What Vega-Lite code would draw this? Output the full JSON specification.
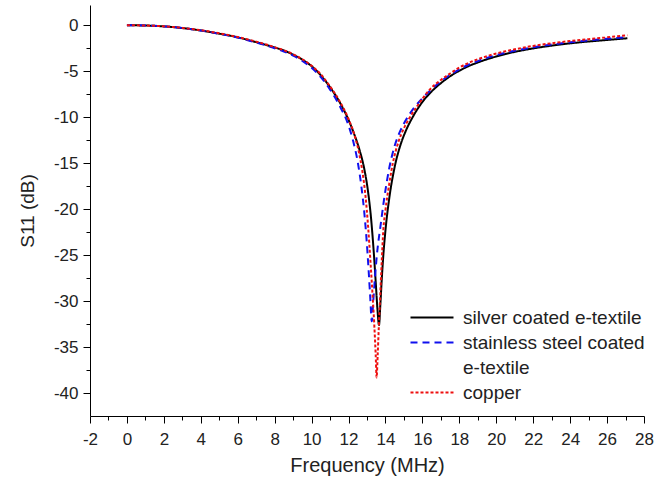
{
  "$schema": "https://vega.github.io/schema/vega-lite/v6.json",
  "width": 554,
  "height": 411,
  "autosize": "none",
  "padding": {"left": 90, "top": 5, "right": 26, "bottom": 72},
  "background": "white",
  "config": {
    "view": {"stroke": null},
    "font": "Liberation Sans",
    "axis": {
      "grid": false,
      "domainColor": "black",
      "domainWidth": 1,
      "tickColor": "black",
      "tickWidth": 1,
      "labelColor": "#222222",
      "labelFont": "Liberation Sans",
      "labelFontSize": 17,
      "titleFont": "Liberation Sans",
      "titleFontWeight": "normal",
      "titleColor": "#222222"
    }
  },
  "data": {
    "values": [
      {"freq": 0, "s11": 0, "sample": "silver coated e-textile"},
      {"freq": 0.5, "s11": -0.01, "sample": "silver coated e-textile"},
      {"freq": 1, "s11": -0.03, "sample": "silver coated e-textile"},
      {"freq": 1.5, "s11": -0.07, "sample": "silver coated e-textile"},
      {"freq": 2, "s11": -0.13, "sample": "silver coated e-textile"},
      {"freq": 2.5, "s11": -0.2, "sample": "silver coated e-textile"},
      {"freq": 3, "s11": -0.31, "sample": "silver coated e-textile"},
      {"freq": 3.5, "s11": -0.43, "sample": "silver coated e-textile"},
      {"freq": 4, "s11": -0.57, "sample": "silver coated e-textile"},
      {"freq": 4.5, "s11": -0.74, "sample": "silver coated e-textile"},
      {"freq": 5, "s11": -0.92, "sample": "silver coated e-textile"},
      {"freq": 5.5, "s11": -1.1, "sample": "silver coated e-textile"},
      {"freq": 6, "s11": -1.32, "sample": "silver coated e-textile"},
      {"freq": 6.5, "s11": -1.57, "sample": "silver coated e-textile"},
      {"freq": 7, "s11": -1.84, "sample": "silver coated e-textile"},
      {"freq": 7.5, "s11": -2.12, "sample": "silver coated e-textile"},
      {"freq": 8, "s11": -2.42, "sample": "silver coated e-textile"},
      {"freq": 8.5, "s11": -2.75, "sample": "silver coated e-textile"},
      {"freq": 9, "s11": -3.2, "sample": "silver coated e-textile"},
      {"freq": 9.5, "s11": -3.75, "sample": "silver coated e-textile"},
      {"freq": 10, "s11": -4.45, "sample": "silver coated e-textile"},
      {"freq": 10.5, "s11": -5.45, "sample": "silver coated e-textile"},
      {"freq": 11, "s11": -6.75, "sample": "silver coated e-textile"},
      {"freq": 11.5, "s11": -8.3, "sample": "silver coated e-textile"},
      {"freq": 12, "s11": -10.3, "sample": "silver coated e-textile"},
      {"freq": 12.3, "s11": -11.8, "sample": "silver coated e-textile"},
      {"freq": 12.6, "s11": -13.6, "sample": "silver coated e-textile"},
      {"freq": 12.85, "s11": -15.6, "sample": "silver coated e-textile"},
      {"freq": 13.05, "s11": -18.0, "sample": "silver coated e-textile"},
      {"freq": 13.22, "s11": -21.0, "sample": "silver coated e-textile"},
      {"freq": 13.37, "s11": -24.8, "sample": "silver coated e-textile"},
      {"freq": 13.48, "s11": -28.2, "sample": "silver coated e-textile"},
      {"freq": 13.57, "s11": -31.0, "sample": "silver coated e-textile"},
      {"freq": 13.65, "s11": -32.6, "sample": "silver coated e-textile"},
      {"freq": 13.72, "s11": -30.5, "sample": "silver coated e-textile"},
      {"freq": 13.8, "s11": -27.6, "sample": "silver coated e-textile"},
      {"freq": 13.9, "s11": -24.6, "sample": "silver coated e-textile"},
      {"freq": 14, "s11": -22.3, "sample": "silver coated e-textile"},
      {"freq": 14.2, "s11": -18.9, "sample": "silver coated e-textile"},
      {"freq": 14.5, "s11": -15.4, "sample": "silver coated e-textile"},
      {"freq": 14.8, "s11": -13.1, "sample": "silver coated e-textile"},
      {"freq": 15.1, "s11": -11.5, "sample": "silver coated e-textile"},
      {"freq": 15.5, "s11": -9.9, "sample": "silver coated e-textile"},
      {"freq": 16, "s11": -8.35, "sample": "silver coated e-textile"},
      {"freq": 16.5, "s11": -7.2, "sample": "silver coated e-textile"},
      {"freq": 17, "s11": -6.3, "sample": "silver coated e-textile"},
      {"freq": 17.5, "s11": -5.55, "sample": "silver coated e-textile"},
      {"freq": 18, "s11": -4.95, "sample": "silver coated e-textile"},
      {"freq": 18.5, "s11": -4.45, "sample": "silver coated e-textile"},
      {"freq": 19, "s11": -4.05, "sample": "silver coated e-textile"},
      {"freq": 19.5, "s11": -3.7, "sample": "silver coated e-textile"},
      {"freq": 20, "s11": -3.4, "sample": "silver coated e-textile"},
      {"freq": 20.5, "s11": -3.13, "sample": "silver coated e-textile"},
      {"freq": 21, "s11": -2.9, "sample": "silver coated e-textile"},
      {"freq": 22, "s11": -2.52, "sample": "silver coated e-textile"},
      {"freq": 23, "s11": -2.22, "sample": "silver coated e-textile"},
      {"freq": 24, "s11": -1.97, "sample": "silver coated e-textile"},
      {"freq": 25, "s11": -1.77, "sample": "silver coated e-textile"},
      {"freq": 26, "s11": -1.6, "sample": "silver coated e-textile"},
      {"freq": 27.1, "s11": -1.42, "sample": "silver coated e-textile"},

      {"freq": 0, "s11": 0, "sample": "stainless steel coated e-textile"},
      {"freq": 0.5, "s11": -0.01, "sample": "stainless steel coated e-textile"},
      {"freq": 1, "s11": -0.03, "sample": "stainless steel coated e-textile"},
      {"freq": 1.5, "s11": -0.07, "sample": "stainless steel coated e-textile"},
      {"freq": 2, "s11": -0.13, "sample": "stainless steel coated e-textile"},
      {"freq": 2.5, "s11": -0.2, "sample": "stainless steel coated e-textile"},
      {"freq": 3, "s11": -0.31, "sample": "stainless steel coated e-textile"},
      {"freq": 3.5, "s11": -0.43, "sample": "stainless steel coated e-textile"},
      {"freq": 4, "s11": -0.57, "sample": "stainless steel coated e-textile"},
      {"freq": 4.5, "s11": -0.74, "sample": "stainless steel coated e-textile"},
      {"freq": 5, "s11": -0.93, "sample": "stainless steel coated e-textile"},
      {"freq": 5.5, "s11": -1.13, "sample": "stainless steel coated e-textile"},
      {"freq": 6, "s11": -1.35, "sample": "stainless steel coated e-textile"},
      {"freq": 6.5, "s11": -1.6, "sample": "stainless steel coated e-textile"},
      {"freq": 7, "s11": -1.88, "sample": "stainless steel coated e-textile"},
      {"freq": 7.5, "s11": -2.18, "sample": "stainless steel coated e-textile"},
      {"freq": 8, "s11": -2.5, "sample": "stainless steel coated e-textile"},
      {"freq": 8.5, "s11": -2.86, "sample": "stainless steel coated e-textile"},
      {"freq": 9, "s11": -3.3, "sample": "stainless steel coated e-textile"},
      {"freq": 9.5, "s11": -3.88, "sample": "stainless steel coated e-textile"},
      {"freq": 10, "s11": -4.62, "sample": "stainless steel coated e-textile"},
      {"freq": 10.5, "s11": -5.65, "sample": "stainless steel coated e-textile"},
      {"freq": 11, "s11": -7.0, "sample": "stainless steel coated e-textile"},
      {"freq": 11.5, "s11": -8.7, "sample": "stainless steel coated e-textile"},
      {"freq": 12, "s11": -10.9, "sample": "stainless steel coated e-textile"},
      {"freq": 12.25, "s11": -12.6, "sample": "stainless steel coated e-textile"},
      {"freq": 12.5, "s11": -14.9, "sample": "stainless steel coated e-textile"},
      {"freq": 12.7, "s11": -17.6, "sample": "stainless steel coated e-textile"},
      {"freq": 12.85, "s11": -20.3, "sample": "stainless steel coated e-textile"},
      {"freq": 12.98, "s11": -23.4, "sample": "stainless steel coated e-textile"},
      {"freq": 13.08, "s11": -26.4, "sample": "stainless steel coated e-textile"},
      {"freq": 13.17, "s11": -29.4, "sample": "stainless steel coated e-textile"},
      {"freq": 13.26, "s11": -32.2, "sample": "stainless steel coated e-textile"},
      {"freq": 13.34, "s11": -30.0, "sample": "stainless steel coated e-textile"},
      {"freq": 13.44, "s11": -27.2, "sample": "stainless steel coated e-textile"},
      {"freq": 13.56, "s11": -24.5, "sample": "stainless steel coated e-textile"},
      {"freq": 13.72, "s11": -22.0, "sample": "stainless steel coated e-textile"},
      {"freq": 13.92, "s11": -19.0, "sample": "stainless steel coated e-textile"},
      {"freq": 14.18, "s11": -15.8, "sample": "stainless steel coated e-textile"},
      {"freq": 14.5, "s11": -13.1, "sample": "stainless steel coated e-textile"},
      {"freq": 14.8, "s11": -11.5, "sample": "stainless steel coated e-textile"},
      {"freq": 15.2, "s11": -10.0, "sample": "stainless steel coated e-textile"},
      {"freq": 15.6, "s11": -8.85, "sample": "stainless steel coated e-textile"},
      {"freq": 16, "s11": -7.95, "sample": "stainless steel coated e-textile"},
      {"freq": 16.4, "s11": -7.15, "sample": "stainless steel coated e-textile"},
      {"freq": 17, "s11": -6.1, "sample": "stainless steel coated e-textile"},
      {"freq": 17.5, "s11": -5.4, "sample": "stainless steel coated e-textile"},
      {"freq": 18, "s11": -4.8, "sample": "stainless steel coated e-textile"},
      {"freq": 18.5, "s11": -4.3, "sample": "stainless steel coated e-textile"},
      {"freq": 19, "s11": -3.9, "sample": "stainless steel coated e-textile"},
      {"freq": 19.5, "s11": -3.55, "sample": "stainless steel coated e-textile"},
      {"freq": 20, "s11": -3.25, "sample": "stainless steel coated e-textile"},
      {"freq": 20.5, "s11": -3.0, "sample": "stainless steel coated e-textile"},
      {"freq": 21, "s11": -2.77, "sample": "stainless steel coated e-textile"},
      {"freq": 22, "s11": -2.4, "sample": "stainless steel coated e-textile"},
      {"freq": 23, "s11": -2.1, "sample": "stainless steel coated e-textile"},
      {"freq": 24, "s11": -1.86, "sample": "stainless steel coated e-textile"},
      {"freq": 25, "s11": -1.65, "sample": "stainless steel coated e-textile"},
      {"freq": 26, "s11": -1.47, "sample": "stainless steel coated e-textile"},
      {"freq": 27.1, "s11": -1.3, "sample": "stainless steel coated e-textile"},

      {"freq": 0, "s11": 0, "sample": "copper"},
      {"freq": 0.5, "s11": -0.01, "sample": "copper"},
      {"freq": 1, "s11": -0.03, "sample": "copper"},
      {"freq": 1.5, "s11": -0.07, "sample": "copper"},
      {"freq": 2, "s11": -0.12, "sample": "copper"},
      {"freq": 2.5, "s11": -0.19, "sample": "copper"},
      {"freq": 3, "s11": -0.29, "sample": "copper"},
      {"freq": 3.5, "s11": -0.41, "sample": "copper"},
      {"freq": 4, "s11": -0.54, "sample": "copper"},
      {"freq": 4.5, "s11": -0.7, "sample": "copper"},
      {"freq": 5, "s11": -0.88, "sample": "copper"},
      {"freq": 5.5, "s11": -1.07, "sample": "copper"},
      {"freq": 6, "s11": -1.28, "sample": "copper"},
      {"freq": 6.5, "s11": -1.52, "sample": "copper"},
      {"freq": 7, "s11": -1.78, "sample": "copper"},
      {"freq": 7.5, "s11": -2.07, "sample": "copper"},
      {"freq": 8, "s11": -2.39, "sample": "copper"},
      {"freq": 8.5, "s11": -2.72, "sample": "copper"},
      {"freq": 9, "s11": -3.15, "sample": "copper"},
      {"freq": 9.5, "s11": -3.7, "sample": "copper"},
      {"freq": 10, "s11": -4.4, "sample": "copper"},
      {"freq": 10.5, "s11": -5.35, "sample": "copper"},
      {"freq": 11, "s11": -6.65, "sample": "copper"},
      {"freq": 11.5, "s11": -8.2, "sample": "copper"},
      {"freq": 12, "s11": -10.2, "sample": "copper"},
      {"freq": 12.3, "s11": -11.8, "sample": "copper"},
      {"freq": 12.55, "s11": -13.7, "sample": "copper"},
      {"freq": 12.75, "s11": -15.9, "sample": "copper"},
      {"freq": 12.92, "s11": -18.6, "sample": "copper"},
      {"freq": 13.06, "s11": -21.9, "sample": "copper"},
      {"freq": 13.19, "s11": -25.8, "sample": "copper"},
      {"freq": 13.3, "s11": -29.3, "sample": "copper"},
      {"freq": 13.4, "s11": -32.8, "sample": "copper"},
      {"freq": 13.47, "s11": -35.8, "sample": "copper"},
      {"freq": 13.52, "s11": -38.3, "sample": "copper"},
      {"freq": 13.58, "s11": -35.8, "sample": "copper"},
      {"freq": 13.64, "s11": -32.8, "sample": "copper"},
      {"freq": 13.72, "s11": -29.2, "sample": "copper"},
      {"freq": 13.8, "s11": -25.6, "sample": "copper"},
      {"freq": 13.88, "s11": -22.4, "sample": "copper"},
      {"freq": 14, "s11": -20.1, "sample": "copper"},
      {"freq": 14.2, "s11": -17.3, "sample": "copper"},
      {"freq": 14.4, "s11": -15.0, "sample": "copper"},
      {"freq": 14.7, "s11": -12.7, "sample": "copper"},
      {"freq": 15, "s11": -11.2, "sample": "copper"},
      {"freq": 15.3, "s11": -10.1, "sample": "copper"},
      {"freq": 15.7, "s11": -8.85, "sample": "copper"},
      {"freq": 16, "s11": -8.0, "sample": "copper"},
      {"freq": 16.4, "s11": -7.0, "sample": "copper"},
      {"freq": 17, "s11": -5.95, "sample": "copper"},
      {"freq": 17.5, "s11": -5.25, "sample": "copper"},
      {"freq": 18, "s11": -4.6, "sample": "copper"},
      {"freq": 18.5, "s11": -4.1, "sample": "copper"},
      {"freq": 19, "s11": -3.7, "sample": "copper"},
      {"freq": 19.5, "s11": -3.36, "sample": "copper"},
      {"freq": 20, "s11": -3.07, "sample": "copper"},
      {"freq": 20.5, "s11": -2.83, "sample": "copper"},
      {"freq": 21, "s11": -2.62, "sample": "copper"},
      {"freq": 22, "s11": -2.25, "sample": "copper"},
      {"freq": 23, "s11": -1.96, "sample": "copper"},
      {"freq": 24, "s11": -1.72, "sample": "copper"},
      {"freq": 25, "s11": -1.52, "sample": "copper"},
      {"freq": 26, "s11": -1.32, "sample": "copper"},
      {"freq": 27.1, "s11": -1.1, "sample": "copper"}
    ]
  },
  "mark": {"type": "line", "strokeWidth": 2, "interpolate": "monotone"},
  "encoding": {
    "x": {
      "field": "freq",
      "type": "quantitative",
      "scale": {"domain": [-2, 28], "nice": false, "zero": false},
      "axis": {
        "title": "Frequency (MHz)",
        "titleFontSize": 20,
        "titlePadding": 8,
        "values": [-2, -1, 0, 1, 2, 3, 4, 5, 6, 7, 8, 9, 10, 11, 12, 13, 14, 15, 16, 17, 18, 19, 20, 21, 22, 23, 24, 25, 26, 27, 28],
        "labelExpr": "datum.value % 2 == 0 ? replace(datum.label, '−', '-') : ''",
        "tickSize": {"condition": {"test": "datum.value % 2 != 0", "value": 4}, "value": 7},
        "labelPadding": 8,
        "labelFlush": false,
        "labelOverlap": false
      }
    },
    "y": {
      "field": "s11",
      "type": "quantitative",
      "scale": {"domain": [-42.5, 2.2], "nice": false, "zero": false},
      "axis": {
        "title": "S11 (dB)",
        "titleFontSize": 19,
        "titlePadding": 16,
        "values": [0, -2.5, -5, -7.5, -10, -12.5, -15, -17.5, -20, -22.5, -25, -27.5, -30, -32.5, -35, -37.5, -40],
        "labelExpr": "datum.value % 5 == 0 ? replace(datum.label, '−', '-') : ''",
        "tickSize": {"condition": {"test": "datum.value % 5 != 0", "value": 4}, "value": 7},
        "labelPadding": 5,
        "labelFlush": false,
        "labelOverlap": false
      }
    },
    "color": {
      "field": "sample",
      "type": "nominal",
      "scale": {
        "domain": ["silver coated e-textile", "stainless steel coated e-textile", "e-textile", "copper"],
        "range": ["#000000", "#1010ee", "rgba(0,0,0,0)", "#ee1010"]
      },
      "legend": {
        "title": null,
        "orient": "none",
        "legendX": 319,
        "legendY": 300,
        "symbolType": "stroke",
        "symbolSize": 1850,
        "symbolStrokeWidth": 2,
        "clipHeight": 25,
        "labelFontSize": 19,
        "labelFont": "Liberation Sans",
        "labelColor": "#222222",
        "labelOffset": 8,
        "rowPadding": 0,
        "labelLimit": 400,
        "labelExpr": "datum.label == 'stainless steel coated e-textile' ? 'stainless steel coated' : datum.label"
      }
    },
    "strokeDash": {
      "field": "sample",
      "type": "nominal",
      "scale": {
        "domain": ["silver coated e-textile", "stainless steel coated e-textile", "e-textile", "copper"],
        "range": [[1, 0], [7, 5], [1, 0], [3, 2]]
      }
    }
  }
}
